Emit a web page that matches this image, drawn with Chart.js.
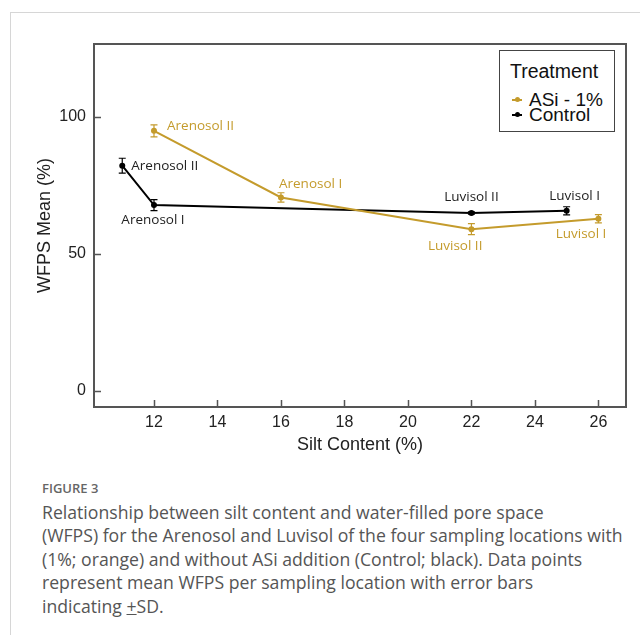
<!DOCTYPE html>
<html lang="en">
<head>
<meta charset="UTF-8">
<title>WFPS vs silt content</title>
<style>
    body {
        margin: 0;
        background: #fff;
        font-family: "Liberation Sans", Arial, sans-serif;
    }
    #page {
        position: relative;
        width: 640px;
        height: 635px;
        overflow: hidden;
    }
    #frame {
        position: absolute;
        left: 10px;
        top: 12px;
        width: 640px;
        height: 640px;
        border-top: 1.5px solid #d6d6d6;
        border-left: 1.5px solid #d6d6d6;
    }
    #chart-container {
        position: absolute;
        left: 0;
        top: 0;
        width: 640px;
        height: 470px;
    }
    #legend {
        position: absolute;
        left: 499px;
        top: 50px;
        width: 116px;
        height: 82px;
        box-sizing: border-box;
        border: 1.5px solid #444;
        background: #fff;
        color: #111;
    }
    #legend .lg-title {
        position: absolute;
        left: 10px;
        top: 10px;
        font-size: 19.5px;
        line-height: 20px;
        white-space: nowrap;
    }
    #legend .lg-row {
        position: absolute;
        left: 29px;
        font-size: 19px;
        line-height: 20px;
        white-space: nowrap;
    }
    #legend .lg-mark {
        position: absolute;
        left: -17px;
        top: 9px;
        width: 10px;
        height: 1.5px;
    }
    #legend .lg-mark::after {
        content: "";
        position: absolute;
        left: 2.5px;
        top: -2px;
        width: 5px;
        height: 5px;
        border-radius: 50%;
        background: inherit;
    }
    #caption {
        position: absolute;
        left: 42px;
        top: 478px;
        color: #555;
        font-family: "Open Sans", "Noto Sans", sans-serif;
    }
    #caption .fig {
        font-size: 13px;
        font-weight: 600;
        line-height: 20px;
        color: #666;
        margin-bottom: 2.5px;
    }
    #caption .line {
        font-size: 17.65px;
        line-height: 23.5px;
        white-space: nowrap;
    }
</style>
</head>
<body>
<div id="page">
    <div id="frame"></div>
    <div id="chart-container">
        <canvas id="wfpsChart"></canvas>
    </div>
    <div id="legend">
        <div class="lg-title">Treatment</div>
        <div class="lg-row" style="top:39px;"><span class="lg-mark" style="background:#C49B2C;"></span>ASi - 1%</div>
        <div class="lg-row" style="top:54px;"><span class="lg-mark" style="background:#000;"></span>Control</div>
    </div>
    <div id="caption">
        <div class="fig">FIGURE 3</div>
        <div class="line">Relationship between silt content and water-filled pore space</div>
        <div class="line">(WFPS) for the Arenosol and Luvisol of the four sampling locations with</div>
        <div class="line">(1%; orange) and without ASi addition (Control; black). Data points</div>
        <div class="line">represent mean WFPS per sampling location with error bars</div>
        <div class="line">indicating <u>+</u>SD.</div>
    </div>
</div>
<script src="https://cdn.jsdelivr.net/npm/chart.js"></script>
<script>
    // values
    const siltAsi = [12, 16, 22, 26];
    const wfpsAsi = [94.8, 70.5, 58.9, 62.7];
    const sdAsi = [2.2, 1.7, 2.0, 1.5];
    const namesAsi = ['Arenosol II', 'Arenosol I', 'Luvisol II', 'Luvisol I'];

    const siltControl = [11, 12, 22, 25];
    const wfpsControl = [82.1, 67.7, 64.8, 65.6];
    const sdControl = [2.7, 2.0, 0.4, 1.5];
    const namesControl = ['Arenosol II', 'Arenosol I', 'Luvisol II', 'Luvisol I'];

    const xTicks = [12, 14, 16, 18, 20, 22, 24, 26];
    const yTicks = [0, 50, 100];

    // where each site name sits relative to its point: [dx, dy, align]
    const asiLabelPos = [[13, -5, 'left'], [-2, -13, 'left'], [11, 17, 'right'], [8, 15, 'right']];
    const controlLabelPos = [[9, 1, 'left'], [-1, 15, 'center'], [0, -16, 'center'], [8, -15, 'center']];

    const GOLD = '#C49B2C';
    const BLACK = '#000';

    function toPoints(xs, ys) {
        return xs.map((x, i) => ({x: x, y: ys[i]}));
    }

    const extras = [
        {sd: sdAsi, names: namesAsi, pos: asiLabelPos, color: GOLD},
        {sd: sdControl, names: namesControl, pos: controlLabelPos, color: '#222'}
    ];

    // frame, inward ticks, error bars and site labels
    const decorations = {
        id: 'decorations',
        afterDatasetsDraw(chart) {
            const c = chart.ctx;
            const area = chart.chartArea;
            const xs = chart.scales.x;
            const ys = chart.scales.y;
            c.save();

            c.strokeStyle = '#555';
            c.lineWidth = 2;
            c.strokeRect(area.left, area.top, area.right - area.left, area.bottom - area.top);

            c.lineWidth = 1.5;
            c.beginPath();
            xTicks.forEach(v => {
                const px = Math.round(xs.getPixelForValue(v)) + 0.5;
                c.moveTo(px, area.bottom);
                c.lineTo(px, area.bottom - 7);
            });
            yTicks.forEach(v => {
                const py = Math.round(ys.getPixelForValue(v)) + 0.5;
                c.moveTo(area.left, py);
                c.lineTo(area.left + 7, py);
            });
            c.stroke();

            chart.data.datasets.forEach((ds, di) => {
                const ex = extras[di];
                c.strokeStyle = ds.borderColor;
                c.lineWidth = 1.2;
                ds.data.forEach((p, i) => {
                    const px = xs.getPixelForValue(p.x);
                    const top = ys.getPixelForValue(p.y + ex.sd[i]);
                    const bot = ys.getPixelForValue(p.y - ex.sd[i]);
                    c.beginPath();
                    c.moveTo(px, top);
                    c.lineTo(px, bot);
                    c.moveTo(px - 3.5, top);
                    c.lineTo(px + 3.5, top);
                    c.moveTo(px - 3.5, bot);
                    c.lineTo(px + 3.5, bot);
                    c.stroke();
                });

                c.fillStyle = ex.color;
                c.font = '13.5px "Open Sans", sans-serif';
                c.textBaseline = 'middle';
                ds.data.forEach((p, i) => {
                    const pos = ex.pos[i];
                    c.textAlign = pos[2];
                    c.fillText(ex.names[i], xs.getPixelForValue(p.x) + pos[0], ys.getPixelForValue(p.y) + pos[1]);
                });
            });
            c.restore();
        }
    };

    const ctx = document.getElementById('wfpsChart').getContext('2d');
    const wfpsChart = new Chart(ctx, {
        type: 'line',
        data: {
            datasets: [{
                label: 'ASi - 1%',
                data: toPoints(siltAsi, wfpsAsi),
                borderColor: GOLD,
                backgroundColor: GOLD,
                borderWidth: 2,
                pointRadius: 3,
                pointBackgroundColor: GOLD,
                pointBorderWidth: 0,
                tension: 0,
                fill: false
            }, {
                label: 'Control',
                data: toPoints(siltControl, wfpsControl),
                borderColor: BLACK,
                backgroundColor: BLACK,
                borderWidth: 2,
                pointRadius: 3,
                pointBackgroundColor: BLACK,
                pointBorderWidth: 0,
                tension: 0,
                fill: false
            }]
        },
        options: {
            responsive: true,
            maintainAspectRatio: false,
            animation: false,
            layout: {
                padding: {top: 44, right: 14, bottom: 13, left: 0}
            },
            plugins: {
                legend: {display: false},
                tooltip: {enabled: false}
            },
            scales: {
                x: {
                    type: 'linear',
                    min: 10.11,
                    max: 26.87,
                    afterBuildTicks: s => { s.ticks = xTicks.map(v => ({value: v})); },
                    afterFit: s => { s.height = 50; },
                    grid: {display: false, drawTicks: false},
                    border: {display: false},
                    ticks: {
                        autoSkip: false,
                        maxRotation: 0,
                        padding: 6,
                        color: '#222',
                        font: {family: '"Liberation Sans", Arial, sans-serif', size: 16}
                    },
                    title: {
                        display: true,
                        text: 'Silt Content (%)',
                        color: '#222',
                        padding: {top: 0, bottom: 1},
                        font: {family: '"Liberation Sans", Arial, sans-serif', size: 18}
                    }
                },
                y: {
                    type: 'linear',
                    min: -6.0,
                    max: 126.5,
                    afterBuildTicks: s => { s.ticks = yTicks.map(v => ({value: v})); },
                    afterFit: s => { s.width = 94; },
                    grid: {display: false, drawTicks: false},
                    border: {display: false},
                    ticks: {
                        padding: 8,
                        color: '#222',
                        font: {family: '"Liberation Sans", Arial, sans-serif', size: 16}
                    },
                    title: {
                        display: true,
                        text: 'WFPS Mean (%)',
                        color: '#222',
                        padding: {top: 34, bottom: 0},
                        font: {family: '"Liberation Sans", Arial, sans-serif', size: 18}
                    }
                }
            }
        },
        plugins: [decorations]
    });
</script>
</body>
</html>
